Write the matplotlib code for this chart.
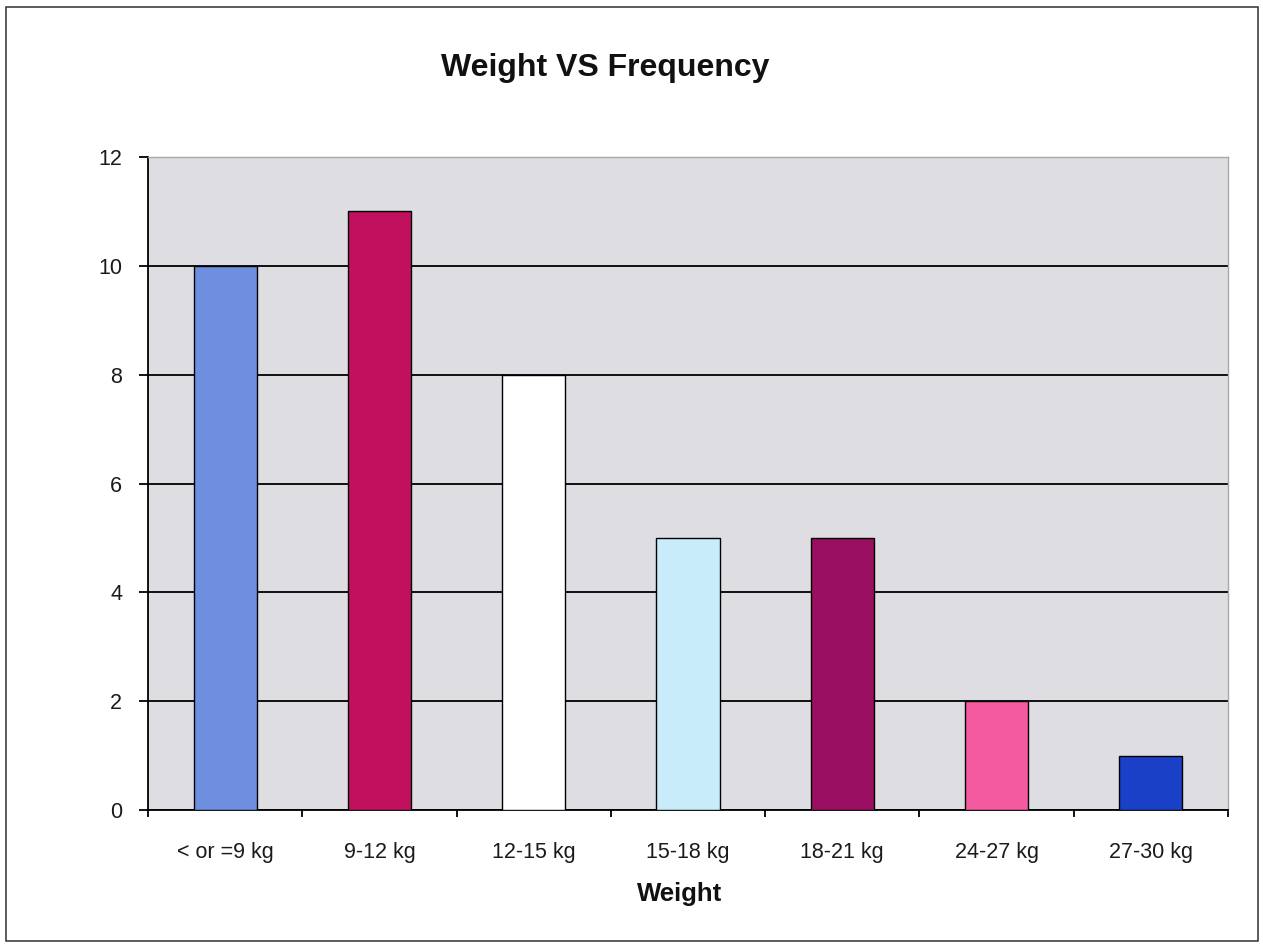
import numpy as np
import matplotlib.pyplot as plt
from matplotlib.patches import Rectangle

categories = ["< or =9 kg", "9-12 kg", "12-15 kg", "15-18 kg", "18-21 kg", "24-27 kg", "27-30 kg"]
frequency = [10, 11, 8, 5, 5, 2, 1]
colors = ["#6e8ee0", "#c0105e", "#ffffff", "#c8ecfa", "#9a0f62", "#f45aa0", "#1a40c8"]

plt.rcParams['font.family'] = ['Liberation Sans', 'DejaVu Sans']

fig = plt.figure(figsize=(12.63, 9.47), dpi=100)
ax = fig.add_axes([148/1263, 1 - 810/947, (1228-148)/1263, (810-157)/947])

x = np.arange(len(categories))
ax.bar(x, frequency, width=0.41, color=colors, edgecolor="black", linewidth=1, zorder=3)

ax.set_facecolor("#dedde2")
ax.set_xlim(-0.5, len(categories) - 0.5)
ax.set_ylim(0, 12)
ax.set_yticks(np.arange(0, 13, 2))
ax.yaxis.grid(True, color="black", linewidth=1.3, zorder=1)
ax.set_axisbelow(True)

# category ticks sit between the bars, labels under the bars
ax.set_xticks(np.arange(-0.5, len(categories), 1))
ax.set_xticklabels([])
ax.set_xticks(x, minor=True)
ax.set_xticklabels(categories, minor=True)
ax.tick_params(axis="x", which="minor", length=0, pad=23, labelsize=15.5, colors="#1a1a1a")
ax.tick_params(axis="x", which="major", length=5, width=1.3, direction="out")
ax.tick_params(axis="y", length=6.5, width=1.3, direction="out", labelsize=15.5, pad=12,
               labelcolor="#1a1a1a")

for side in ["left", "bottom"]:
    ax.spines[side].set_color("black")
    ax.spines[side].set_linewidth(1.3)
for side in ["top", "right"]:
    ax.spines[side].set_color("#a8a8a8")
    ax.spines[side].set_linewidth(1)

fig.text(605/1263, 1 - 68/947, "Weight VS Frequency", ha="center", va="center",
         fontsize=23, fontweight="bold", color="#111111")
fig.text(680/1263, 1 - 894/947, "Weight", ha="center", va="center",
         fontsize=18.5, fontweight="bold", color="#111111")

# outer chart border
fig.patches.append(Rectangle((6/1263, 1 - 941/947), (1258-6)/1263, (941-7)/947,
                             transform=fig.transFigure, fill=False,
                             edgecolor="#404040", linewidth=1.2))

plt.savefig("out.png", dpi=100)
